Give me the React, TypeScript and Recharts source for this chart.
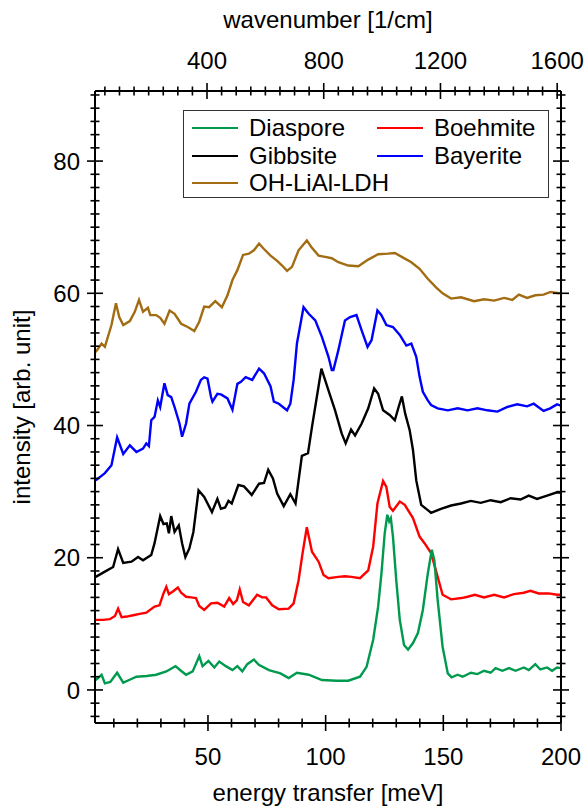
import { Legend, Line, LineChart, XAxis, YAxis } from 'recharts'

// [energy transfer (meV), intensity (arb. unit)]
const diaspore: [number, number][] = [
    [2.3, 1.5], [4.8, 2.3], [6.2, 1.0], [8.5, 1.2], [11.4, 2.6], [14.0, 1.1], [16.5, 1.5], [19.6, 2.0],
    [24.0, 2.1], [28.0, 2.3], [32.3, 2.8], [36.2, 3.6], [38.5, 2.9], [40.7, 2.3], [43.5, 2.8], [46.3, 5.1],
    [47.7, 3.6], [50.2, 4.4], [52.7, 3.4], [54.8, 4.3], [57.6, 3.6], [60.4, 3.0], [62.5, 3.6], [64.6, 2.8],
    [66.7, 3.9], [69.5, 4.6], [71.6, 3.8], [75.9, 3.0], [80.8, 2.5], [84.3, 1.8], [87.8, 2.6], [92.8, 2.3],
    [98.4, 1.5], [104.7, 1.4], [109.6, 1.4], [114.6, 2.0], [117.4, 3.5], [120.2, 7.6], [122.3, 12.6],
    [123.7, 17.6], [125.1, 23.7], [126.2, 26.5], [127.0, 25.5], [127.7, 26.0], [128.6, 23.2], [130.0, 16.6],
    [131.5, 10.6], [133.3, 6.8], [135.0, 6.1], [137.1, 7.1], [139.2, 8.6], [141.3, 12.1], [143.4, 17.6],
    [145.1, 21.2], [146.2, 19.6], [147.6, 13.6], [149.7, 6.5], [151.9, 2.5], [153.5, 1.9], [156.1, 2.3],
    [158.2, 2.0], [161.7, 2.6], [164.5, 2.4], [167.3, 2.9], [170.1, 2.6], [172.2, 3.3], [175.1, 2.9],
    [177.9, 3.3], [180.7, 2.9], [184.2, 3.4], [186.3, 3.0], [189.1, 3.9], [191.2, 3.1], [194.1, 3.4],
    [196.2, 2.9], [198.3, 3.4], [200.0, 3.3],
]

const boehmite: [number, number][] = [
    [2.3, 10.6], [5.5, 10.6], [8.3, 10.7], [10.5, 11.2], [11.8, 12.3], [13.3, 11.0], [15.5, 11.1], [18.2, 11.3],
    [21.0, 11.5], [23.8, 11.7], [27.3, 12.6], [29.4, 12.8], [31.1, 14.6], [32.3, 15.6], [33.4, 14.5],
    [35.1, 14.9], [37.2, 15.5], [38.6, 14.7], [40.7, 14.1], [42.8, 14.0], [44.9, 13.9], [46.3, 12.7],
    [48.4, 12.1], [51.3, 13.1], [54.0, 13.2], [56.9, 12.6], [59.0, 13.9], [60.7, 13.0], [62.3, 13.6],
    [63.5, 15.2], [64.9, 13.3], [67.4, 12.8], [70.9, 14.4], [73.0, 14.0], [74.7, 14.0], [77.3, 12.8],
    [80.1, 12.2], [84.3, 12.3], [86.4, 13.1], [88.5, 16.6], [90.2, 20.7], [92.0, 24.6], [94.2, 20.9],
    [97.0, 19.4], [99.1, 17.4], [101.2, 16.9], [105.4, 17.1], [108.2, 17.2], [111.0, 17.1], [114.6, 16.9],
    [118.1, 18.1], [120.2, 21.7], [122.0, 28.2], [124.4, 31.6], [125.8, 30.7], [127.2, 27.7], [128.6, 27.1],
    [131.5, 28.5], [133.6, 28.0], [137.1, 26.0], [139.9, 23.2], [142.0, 22.2], [144.8, 20.7], [147.6, 17.1],
    [149.7, 14.4], [153.3, 13.7], [157.7, 13.9], [160.3, 14.1], [163.4, 14.4], [167.3, 14.0], [171.6, 14.4],
    [175.8, 14.0], [180.0, 14.5], [184.2, 14.7], [187.0, 15.0], [190.5, 14.6], [194.8, 14.6], [198.3, 14.4],
    [200.0, 14.4],
]

const gibbsite: [number, number][] = [
    [2.3, 17.1], [6.2, 17.9], [9.7, 18.6], [11.8, 21.3], [14.0, 19.2], [17.5, 19.4], [20.3, 20.1], [22.4, 19.6],
    [25.9, 20.4], [27.3, 22.2], [29.7, 26.3], [31.1, 25.1], [32.5, 25.2], [33.4, 23.7], [34.4, 26.3],
    [35.8, 23.9], [37.6, 24.9], [39.0, 22.2], [40.4, 20.1], [42.1, 21.4], [43.8, 23.9], [46.0, 30.2],
    [48.4, 29.2], [51.7, 26.9], [54.0, 28.9], [55.5, 27.4], [57.3, 27.6], [58.7, 28.6], [60.1, 28.2],
    [62.9, 31.0], [65.3, 30.8], [68.6, 29.5], [71.7, 31.2], [73.8, 31.3], [75.6, 33.3], [77.6, 32.0],
    [79.4, 29.7], [82.2, 27.8], [85.0, 29.6], [87.2, 28.2], [89.9, 35.4], [92.5, 35.8], [94.2, 39.8],
    [96.7, 45.3], [98.2, 48.6], [101.2, 45.3], [104.0, 42.3], [106.8, 38.8], [108.5, 37.3], [110.8, 39.4],
    [112.5, 38.5], [115.3, 40.3], [118.1, 42.6], [120.6, 45.6], [122.3, 44.8], [124.4, 42.3], [127.2, 41.6],
    [129.4, 40.8], [131.0, 42.8], [132.4, 44.4], [133.8, 41.8], [135.7, 39.3], [137.1, 36.3], [138.5, 31.7],
    [140.6, 28.0], [143.4, 27.2], [144.8, 26.8], [149.0, 27.4], [153.3, 27.9], [157.5, 28.2], [161.7, 28.6],
    [165.9, 28.3], [170.1, 28.7], [174.4, 28.4], [178.6, 29.0], [182.8, 28.8], [186.3, 29.4], [189.8, 28.9],
    [194.1, 29.4], [198.3, 29.9], [200.0, 29.8],
]

const bayerite: [number, number][] = [
    [2.3, 31.7], [6.2, 32.8], [9.0, 34.0], [11.4, 38.2], [14.0, 35.7], [16.8, 37.0], [19.6, 36.0], [22.4, 36.5],
    [23.8, 37.3], [24.9, 36.9], [25.9, 40.8], [27.3, 41.3], [28.7, 43.8], [29.7, 42.8], [31.5, 46.4],
    [32.9, 44.6], [34.4, 44.3], [35.8, 42.8], [37.9, 40.3], [39.0, 38.3], [40.7, 40.3], [42.1, 43.3],
    [44.9, 45.1], [47.0, 46.9], [48.4, 47.3], [49.8, 47.1], [51.3, 44.3], [51.9, 43.6], [54.0, 44.8],
    [55.5, 44.7], [58.3, 44.1], [60.4, 42.4], [62.5, 46.3], [64.0, 46.6], [66.0, 47.3], [68.8, 46.9],
    [71.7, 48.6], [73.8, 47.9], [76.6, 45.9], [78.0, 43.6], [80.1, 43.3], [83.6, 42.3], [85.0, 43.3],
    [86.4, 46.9], [87.8, 52.4], [90.6, 57.9], [92.8, 56.9], [95.6, 55.9], [98.4, 53.4], [101.2, 50.4],
    [102.6, 48.4], [103.3, 48.4], [105.4, 51.4], [108.2, 55.9], [110.4, 56.4], [113.1, 56.7], [115.3, 54.4],
    [117.8, 51.9], [119.5, 52.9], [122.0, 57.4], [123.7, 56.7], [125.8, 55.2], [128.6, 54.9], [131.5, 53.7],
    [134.3, 52.1], [136.4, 52.4], [138.5, 50.4], [139.9, 47.4], [141.3, 45.1], [143.4, 43.8], [144.8, 43.1],
    [147.6, 42.6], [151.9, 42.3], [156.1, 42.6], [160.3, 42.3], [164.5, 42.6], [168.7, 42.3], [173.0, 42.1],
    [177.2, 42.8], [181.4, 43.2], [185.6, 42.9], [188.4, 43.3], [192.6, 42.2], [195.4, 42.6], [198.3, 43.2],
    [200.0, 43.0],
]

const ldh: [number, number][] = [
    [2.3, 51.1], [4.8, 52.4], [6.2, 51.9], [9.0, 55.2], [10.9, 58.5], [12.3, 56.4], [14.0, 55.2], [16.8, 55.8],
    [18.9, 57.2], [20.7, 59.0], [22.4, 57.2], [24.5, 57.8], [25.5, 56.7], [28.0, 56.7], [29.7, 56.3],
    [31.5, 55.4], [33.7, 57.4], [35.8, 56.9], [38.6, 55.4], [41.4, 54.9], [44.2, 54.3], [46.3, 55.7],
    [48.4, 58.0], [50.5, 57.9], [53.1, 58.8], [55.9, 57.9], [58.3, 59.7], [60.4, 62.0], [62.5, 63.5],
    [64.9, 65.8], [67.4, 66.0], [69.5, 66.5], [71.7, 67.5], [73.8, 66.7], [76.6, 65.7], [79.4, 64.9],
    [81.5, 64.2], [83.6, 63.4], [85.7, 64.0], [88.5, 66.5], [92.0, 68.0], [93.9, 67.0], [97.0, 65.7],
    [99.8, 65.5], [102.6, 65.3], [105.4, 64.7], [109.6, 64.2], [113.9, 64.1], [118.1, 65.1], [122.3, 65.9],
    [126.5, 66.0], [129.4, 66.1], [132.9, 65.4], [136.4, 64.7], [139.9, 63.7], [143.4, 62.2], [146.9, 60.9],
    [149.7, 60.0], [153.3, 59.2], [157.5, 59.4], [163.1, 58.8], [167.3, 59.1], [171.6, 58.9], [175.8, 59.3],
    [179.3, 59.0], [182.1, 59.8], [185.6, 59.3], [189.1, 59.7], [192.6, 59.8], [195.5, 60.2], [199.0, 60.0],
    [200.0, 60.1],
]

const range = (from: number, to: number, step: number) => {
    const out: number[] = []
    for (let v = from; v <= to + 1e-9; v += step) out.push(Math.round(v * 1000) / 1000)
    return out
}

const MEV_TO_CM = 8.0655
const energyDomain: [number, number] = [2, 200]
const wavenumberDomain: [number, number] = [energyDomain[0] * MEV_TO_CM, energyDomain[1] * MEV_TO_CM]
const intensityDomain: [number, number] = [-5, 90.6]

const energyMajor = [50, 100, 150, 200]
const energyTicks = range(10, 200, 10)
const wavenumberMajor = [400, 800, 1200, 1600]
const wavenumberTicks = range(50, 1600, 50)
const intensityMajor = [0, 20, 40, 60, 80]
const intensityTicks = range(-4, 90, 2)

const SERIES = [
    { name: 'Diaspore', color: '#009a4e', points: diaspore },
    { name: 'Boehmite', color: '#ff0000', points: boehmite },
    { name: 'Gibbsite', color: '#000000', points: gibbsite },
    { name: 'Bayerite', color: '#0000ff', points: bayerite },
    { name: 'OH-LiAl-LDH', color: '#a26c12', points: ldh },
]

const FONT = '"Liberation Sans", Arial, sans-serif'
const FONT_SIZE = 24
const AXIS_LINE = { stroke: '#000', strokeWidth: 2 }

type Side = 'top' | 'bottom' | 'left' | 'right'

// ticks cross the frame line; majors are longer and carry the label
const makeTick = (side: Side, majors: number[]) => (props: any) => {
    const { x, y, payload } = props
    const value = payload.value
    const major = majors.includes(value)
    const len = major ? 8 : 4.5
    const horizontal = side === 'top' || side === 'bottom'
    const text = { fontFamily: FONT, fontSize: FONT_SIZE, fill: '#000' }
    return (
        <g>
            {horizontal
                ? <line x1={x} x2={x} y1={y - len} y2={y + len} stroke="#000" strokeWidth={1.6} />
                : <line x1={x - len} x2={x + len} y1={y} y2={y} stroke="#000" strokeWidth={1.6} />}
            {major && side === 'bottom' && <text x={x} y={y + 42} textAnchor="middle" {...text}>{value}</text>}
            {major && side === 'top' && <text x={x} y={y - 22} textAnchor="middle" {...text}>{value}</text>}
            {major && side === 'left' && <text x={x - 15} y={y} dy="0.36em" textAnchor="end" {...text}>{value}</text>}
        </g>
    )
}

const LegendBox = () => (
    <div style={{
        position: 'relative', width: 366, height: 88, boxSizing: 'border-box', border: '1.5px solid #333',
        background: '#fff', fontFamily: FONT, fontSize: FONT_SIZE, color: '#000',
    }}>
        {SERIES.map((s, i) => {
            const col = i % 2
            const row = Math.floor(i / 2)
            return (
                <div key={s.name} style={{
                    position: 'absolute', left: 8 + col * 185, top: 4 + row * 27.5, height: 26,
                    display: 'flex', alignItems: 'center', whiteSpace: 'nowrap',
                }}>
                    <span style={{ display: 'inline-block', width: 46, borderTop: `2.5px solid ${s.color}`, marginRight: 11 }} />
                    <span style={{ lineHeight: '26px' }}>{s.name}</span>
                </div>
            )
        })}
    </div>
)

export default function App() {
    const labelStyle = { fontFamily: FONT, fontSize: FONT_SIZE, fill: '#000' }
    return (
        <div style={{ position: 'absolute', left: 0, top: 0, width: 588, height: 806, background: '#fff' }}>
            <LineChart width={588} height={806} margin={{ top: 0, right: 0, bottom: 0, left: 0 }}>
                <XAxis
                    xAxisId="bottom"
                    dataKey="e"
                    type="number"
                    domain={energyDomain}
                    allowDataOverflow
                    ticks={energyTicks}
                    interval={0}
                    tickSize={0}
                    tickMargin={0}
                    tickLine={false}
                    axisLine={AXIS_LINE}
                    tick={makeTick('bottom', energyMajor)}
                    height={83}
                    label={{ value: 'energy transfer [meV]', position: 'insideBottom', offset: 5, style: labelStyle }}
                />
                <XAxis
                    xAxisId="top"
                    dataKey="w"
                    orientation="top"
                    type="number"
                    domain={wavenumberDomain}
                    allowDataOverflow
                    ticks={wavenumberTicks}
                    interval={0}
                    tickSize={0}
                    tickMargin={0}
                    tickLine={false}
                    axisLine={AXIS_LINE}
                    tick={makeTick('top', wavenumberMajor)}
                    height={91}
                    label={{ value: 'wavenumber [1/cm]', position: 'insideTop', offset: 11, style: labelStyle }}
                />
                <YAxis
                    yAxisId="left"
                    type="number"
                    domain={intensityDomain}
                    allowDataOverflow
                    ticks={intensityTicks}
                    interval={0}
                    tickSize={0}
                    tickMargin={0}
                    tickLine={false}
                    axisLine={AXIS_LINE}
                    tick={makeTick('left', intensityMajor)}
                    width={95}
                    label={{
                        value: 'intensity [arb. unit]', angle: -90, position: 'insideLeft', offset: 21,
                        style: { ...labelStyle, textAnchor: 'middle' },
                    }}
                />
                <YAxis
                    yAxisId="right"
                    orientation="right"
                    type="number"
                    domain={intensityDomain}
                    allowDataOverflow
                    ticks={intensityTicks}
                    interval={0}
                    tickSize={0}
                    tickMargin={0}
                    tickLine={false}
                    axisLine={AXIS_LINE}
                    tick={makeTick('right', intensityMajor)}
                    width={27}
                />
                {/* the top scale needs a series of its own: the LDH trace in wavenumbers, left unstroked */}
                <Line
                    xAxisId="top"
                    yAxisId="left"
                    data={ldh.map(([e, i]) => ({ w: e * MEV_TO_CM, i }))}
                    dataKey="i"
                    stroke="none"
                    dot={false}
                    legendType="none"
                    isAnimationActive={false}
                />
                {[...SERIES].reverse().map(s => (
                    <Line
                        key={s.name}
                        xAxisId="bottom"
                        yAxisId="left"
                        name={s.name}
                        data={s.points.map(([e, i]) => ({ e, i }))}
                        dataKey="i"
                        type="linear"
                        stroke={s.color}
                        strokeWidth={2.4}
                        dot={false}
                        isAnimationActive={false}
                    />
                ))}
                <Legend
                    layout="vertical"
                    align="center"
                    verticalAlign="middle"
                    content={LegendBox}
                    wrapperStyle={{ left: 183, top: 110, width: 366, height: 88 }}
                />
            </LineChart>
        </div>
    )
}
